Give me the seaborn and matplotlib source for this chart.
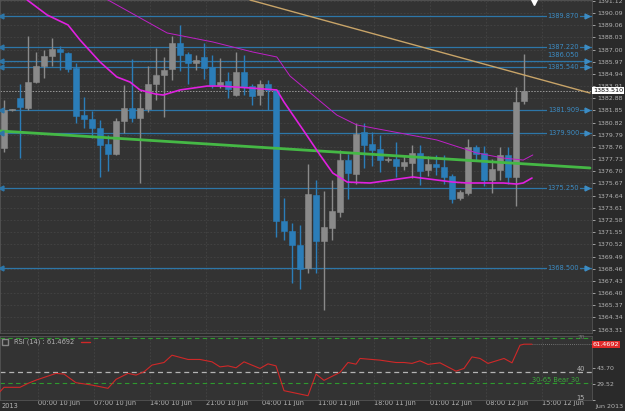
import matplotlib
matplotlib.use("Agg")
import matplotlib.pyplot as plt
import numpy as np
import pandas as pd
import seaborn as sns

# hourly candles
opens = [1378.67, 1381.88, 1382.90, 1382.05, 1384.25, 1385.61, 1386.45, 1387.04, 1386.71, 1385.44,
         1381.46, 1381.12, 1380.36, 1379.01, 1378.16, 1380.95, 1382.05, 1381.21, 1381.97, 1384.08,
         1384.84, 1385.35, 1387.55, 1386.62, 1385.86, 1386.37, 1385.52, 1384.00, 1384.34, 1383.15,
         1385.10, 1383.91, 1383.15, 1384.08, 1383.58, 1372.49, 1371.65, 1370.46, 1368.52, 1374.69,
         1370.80, 1371.90, 1373.25, 1377.65, 1376.47, 1380.02, 1379.01, 1378.58, 1377.65, 1377.74,
         1377.15, 1377.40, 1378.25, 1376.81, 1377.31, 1377.06, 1376.30, 1374.44, 1374.86, 1378.75,
         1378.25, 1375.96, 1376.81, 1378.08, 1376.22, 1382.64]
highs = [1382.73, 1381.97, 1384.08, 1388.14, 1386.79, 1386.96, 1387.98, 1387.30, 1386.79, 1385.86,
         1382.98, 1381.80, 1381.04, 1379.77, 1381.21, 1384.00, 1386.20, 1383.32, 1385.61, 1387.13,
         1386.37, 1388.14, 1389.08, 1386.79, 1386.54, 1387.55, 1386.54, 1386.28, 1385.10, 1386.79,
         1386.54, 1384.08, 1384.42, 1384.42, 1383.58, 1374.44, 1372.32, 1372.15, 1377.31, 1375.96,
         1375.03, 1375.96, 1378.50, 1378.16, 1380.78, 1380.78, 1380.02, 1379.77, 1377.91, 1379.18,
         1377.99, 1378.92, 1378.92, 1377.99, 1378.08, 1378.08, 1376.47, 1375.11, 1379.43, 1378.92,
         1378.84, 1377.74, 1378.75, 1378.75, 1383.83, 1386.62]
lows = [1378.33, 1381.80, 1377.82, 1381.88, 1384.17, 1384.59, 1385.61, 1385.27, 1385.10, 1380.78,
        1380.36, 1379.52, 1376.22, 1376.72, 1378.08, 1379.94, 1380.87, 1375.71, 1381.72, 1382.73,
        1381.29, 1384.42, 1385.18, 1384.08, 1385.27, 1384.51, 1383.75, 1383.75, 1382.90, 1383.07,
        1383.15, 1382.31, 1382.31, 1381.88, 1371.14, 1370.89, 1367.25, 1366.74, 1368.09, 1368.09,
        1364.96, 1370.89, 1372.83, 1374.36, 1375.62, 1376.98, 1377.15, 1376.64, 1377.48, 1376.22,
        1376.81, 1376.13, 1375.54, 1376.30, 1376.39, 1375.62, 1374.02, 1374.27, 1374.69, 1377.65,
        1375.45, 1374.86, 1375.96, 1375.62, 1373.76, 1382.39]
closes = [1381.88, 1381.88, 1382.14, 1384.25, 1385.61, 1386.45, 1387.04, 1386.79, 1385.35, 1381.38,
          1381.12, 1380.36, 1378.92, 1378.16, 1380.95, 1382.05, 1381.21, 1382.05, 1384.08, 1384.84,
          1385.27, 1387.55, 1386.54, 1385.86, 1386.11, 1385.44, 1384.00, 1384.25, 1383.66, 1385.10,
          1383.83, 1383.07, 1384.08, 1383.58, 1372.49, 1371.65, 1370.46, 1368.43, 1374.78, 1370.80,
          1371.99, 1373.34, 1377.65, 1376.55, 1379.85, 1378.92, 1378.50, 1377.65, 1377.65, 1377.15,
          1377.48, 1378.25, 1376.72, 1377.31, 1377.06, 1376.22, 1374.36, 1374.95, 1378.75, 1378.16,
          1375.96, 1376.89, 1378.08, 1376.22, 1382.56, 1383.51]

# moving averages (candle index, price)
ma_fast_idx = [2.9, 5.4, 8, 9.5, 12, 14.1, 15.75, 17, 18.9, 19.9, 22, 25.4, 27, 30.75, 34.1, 35,
               37.4, 39.5, 41.1, 42.9, 45.75, 51.1, 56.1, 57.9, 62.4, 64.1, 64.9, 66]
ma_fast_val = [1391.19, 1389.92, 1389.08, 1387.81, 1385.95, 1384.68, 1384.25, 1383.58, 1383.24,
               1383.15, 1383.58, 1383.91, 1383.91, 1383.75, 1383.58, 1382.56, 1380.19, 1378.08,
               1376.55, 1375.79, 1375.71, 1376.22, 1375.79, 1375.71, 1375.71, 1375.62, 1375.71, 1376.13]
ma_slow_idx = [10, 13, 20.4, 26.1, 31.1, 34.1, 35.75, 41.6, 44.1, 54.1, 59.1, 62.4, 64.9, 66.1]
ma_slow_val = [1392.5, 1391.19, 1388.40, 1387.64, 1386.79, 1386.37, 1384.76, 1381.46, 1380.62,
               1379.35, 1378.25, 1377.82, 1377.65, 1378.08]

# trend lines (start/end index, price)
green_idx = [-0.5, 73.25]
green_val = [1380.11, 1376.98]
tan_idx = [30.75, 73.25]
tan_val = [1391.19, 1383.32]

# horizontal levels
levels = [1389.870, 1387.220, 1386.050, 1385.540, 1381.909, 1379.900, 1375.250, 1368.500]
last_price = 1383.510

price_ticks = [1391.12, 1390.09, 1389.06, 1388.03, 1387.00, 1385.97, 1384.94, 1383.91, 1382.88,
               1381.85, 1380.82, 1379.79, 1378.76, 1377.73, 1376.70, 1375.67, 1374.64, 1373.61,
               1372.58, 1371.55, 1370.52, 1369.49, 1368.46, 1367.43, 1366.40, 1365.37, 1364.34, 1363.31]

# RSI (14)
rsi_idx = [-0.5, 0, 2, 3, 4, 6.5, 7.5, 9, 11, 13, 14, 15.5, 16.5, 17.5, 18.5, 20, 21, 23, 24.5, 26,
           27, 28, 29, 30, 32, 33, 34, 35, 38, 39, 40, 42, 43, 44, 44.5, 47, 49, 50, 51, 52, 53,
           54.5, 56.5, 57.5, 58.5, 59.5, 60.5, 62.5, 63.5, 64.5, 65, 66]
rsi_val = [22.4, 26.3, 26.3, 29.8, 32.7, 38.7, 38.1, 30.4, 28.3, 25.4, 33.4, 38.7, 37.2, 40.1, 46.1,
           48.4, 54.9, 51.1, 51.1, 49.0, 44.5, 45.4, 43.7, 49.0, 43.1, 47.2, 45.4, 23.3, 18.8, 38.1,
           32.5, 39.6, 48.4, 46.9, 52.0, 50.5, 48.4, 48.4, 47.6, 49.9, 46.7, 48.1, 40.7, 43.1, 53.4,
           52.0, 47.6, 52.0, 48.1, 63.8, 64.7, 64.7]

time_tick_idx = [4.25, 11.25, 18.25, 25.25, 32.25, 39.25, 46.25, 53.25, 60.25, 67.25]
time_labels = ["00:00 10 Jun", "07:00 10 Jun", "14:00 10 Jun", "21:00 10 Jun", "04:00 11 Jun",
               "11:00 11 Jun", "18:00 11 Jun", "01:00 12 Jun", "08:00 12 Jun", "15:00 12 Jun"]

BG = "#333333"
GRID = "#444444"
TXT = "#b4b4b4"
LVL = "#2d76a8"
UP = "#8a8a8a"
DOWN = "#2b7db8"

sns.set_theme(style="dark", rc={"axes.facecolor": BG, "figure.facecolor": "#2a2a2a",
                                "axes.edgecolor": "#555555", "text.color": TXT,
                                "xtick.color": TXT, "ytick.color": TXT})
plt.rcParams["font.family"] = ["DejaVu Sans"]

fig = plt.figure(figsize=(6.25, 4.11), dpi=100)
ax = fig.add_axes([0, 78 / 411, 592 / 625, 333 / 411])
ax2 = fig.add_axes([0, 11 / 411, 592 / 625, 64 / 411])

xmin, xmax = -0.5, 73.5
for a in (ax, ax2):
    a.set_xlim(xmin, xmax)
    for t in time_tick_idx:
        a.axvline(t, color=GRID, lw=0.6, ls=(0, (2, 2)), zorder=0)

for p in price_ticks:
    ax.axhline(p, color=GRID, lw=0.6, ls=(0, (2, 2)), zorder=0)

df = pd.DataFrame({"open": opens, "high": highs, "low": lows, "close": closes})
df["idx"] = np.arange(len(df))
up = df["close"] >= df["open"]
colors = np.where(up, UP, DOWN)
ax.vlines(df["idx"], df["low"], df["high"], colors=colors, lw=1.0, zorder=3)
body = (df["close"] - df["open"]).abs().clip(lower=0.06)
ax.bar(df["idx"], body, bottom=df[["open", "close"]].min(axis=1), width=0.68,
       color=colors, edgecolor=colors, lw=0.4, zorder=4)

# levels with labels
for lv in levels:
    ax.axhline(lv, color=LVL, lw=0.9, zorder=2)
    ty = lv + 0.45 if lv == 1386.050 else lv
    ax.text(71.9, ty, f"{lv:.3f}", color="#3c8cc4", fontsize=4.8, ha="right", va="center", zorder=6,
            bbox=dict(facecolor=BG, edgecolor="none", pad=0.6))
    ax.plot([72.85], [lv], marker=">", color="#3c8cc4", ms=3.5, zorder=6, clip_on=False)
    ax.plot([-0.35], [lv], marker="<", color=LVL, ms=3.5, zorder=6)

ax.axhline(last_price, color="#9a9a9a", lw=0.7, ls=(0, (1.5, 1.5)), zorder=2)

sns.lineplot(x=green_idx, y=green_val, ax=ax, color="#45b845", lw=2.0, zorder=5)
sns.lineplot(x=tan_idx, y=tan_val, ax=ax, color="#c8a468", lw=1.0, zorder=5)
sns.lineplot(x=ma_fast_idx, y=ma_fast_val, ax=ax, color="#e020e0", lw=1.2, zorder=5)
sns.lineplot(x=ma_slow_idx, y=ma_slow_val, ax=ax, color="#c020c8", lw=0.7, zorder=5)

ax.set_ylim(1363.02, 1391.19)
ax.yaxis.tick_right()
ax.set_yticks(price_ticks)
ax.set_yticklabels([f"{p:.2f}" for p in price_ticks], fontsize=4.5)
ax.tick_params(axis="y", length=2, pad=1.5, width=0.6, colors=TXT)
ax.set_xticks([])
ax.text(73.6, last_price, f"{last_price:.3f}", fontsize=4.6, color="black", va="center", ha="left",
        bbox=dict(facecolor="white", edgecolor="none", pad=0.8), clip_on=False, zorder=10)
ax.plot([66.3], [1391.0], marker="v", color="white", ms=4, zorder=8)

# RSI panel
sns.lineplot(x=rsi_idx, y=rsi_val, ax=ax2, color="#d02828", lw=0.8, zorder=5)
ax2.set_ylim(15, 72)
ax2.axhline(70.5, color="#2e9a2e", lw=0.8, ls=(0, (4, 3)))
ax2.axhline(29.8, color="#2e9a2e", lw=0.8, ls=(0, (4, 3)))
ax2.axhline(40.3, color="#b4b4b4", lw=0.9, ls=(0, (4, 3)))
ax2.axhline(64.7, color="#888888", lw=0.6, ls=(0, (1, 1.5)), xmin=(66 - xmin) / (xmax - xmin))
ax2.text(71.9, 32.5, "30-65 Bear 30", color="#3aa83a", fontsize=4.8, ha="right", va="center")
ax2.text(72.6, 42.5, "40", color=TXT, fontsize=4.8, ha="right", va="center")
ax2.text(72.6, 71.0, "70", color="#777777", fontsize=4.2, ha="right", va="center")
ax2.text(72.6, 17.0, "15", color=TXT, fontsize=4.8, ha="right", va="center")
ax2.text(1.2, 66.5, "RSI (14) : 61.4692", color=TXT, fontsize=4.8, ha="left", va="center")
ax2.plot([9.6, 10.8], [66.5, 66.5], color="#d02828", lw=1.0)
ax2.plot([0.1], [66.5], marker="s", mfc="none", mec="#888888", ms=4)
ax2.yaxis.tick_right()
ax2.set_yticks([43.4, 29.1, 15])
ax2.set_yticklabels(["43.70", "29.52", ""], fontsize=4.5)
ax2.tick_params(axis="y", length=2, pad=1.5, width=0.6, colors=TXT)
ax2.text(73.6, 64.7, "61.4692", fontsize=4.6, color="white", va="center", ha="left",
         bbox=dict(facecolor="#e02a2a", edgecolor="none", pad=0.8), clip_on=False, zorder=10)
ax2.set_xticks(time_tick_idx)
ax2.set_xticklabels(time_labels, fontsize=4.8, ha="left")
ax2.tick_params(axis="x", length=8, pad=-8, width=0.6, colors=TXT, direction="out")
fig.text(0.002, 0.004, "2013", fontsize=4.8, color=TXT, va="bottom")
fig.text(0.953, 0.006, "Jun 2013", fontsize=4.6, color=TXT, va="bottom")

for a in (ax, ax2):
    for s in a.spines.values():
        s.set_linewidth(0.6)

fig.savefig("out.png", dpi=100)
